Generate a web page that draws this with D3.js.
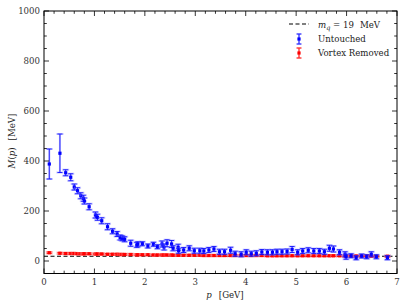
<!DOCTYPE html>
<html><head><meta charset="utf-8">
<script src="https://cdn.jsdelivr.net/npm/d3@7"></script>
<style>body{margin:0;background:#fff}</style>
</head><body><svg id="c" width="407" height="307" font-family="'DejaVu Serif', serif"></svg>
<script>
const momenta = [0.105,0.316,0.43,0.53,0.60,0.665,0.73,0.78,0.80,0.895,1.02,1.06,1.145,1.26,1.36,1.45,1.51,1.55,1.60,1.72,1.84,1.86,1.95,2.06,2.17,2.25,2.34,2.38,2.44,2.53,2.56,2.66,2.67,2.77,2.88,2.98,3.09,3.17,3.27,3.37,3.48,3.58,3.70,3.79,3.91,4.01,4.11,4.21,4.32,4.43,4.53,4.62,4.72,4.82,4.92,5.03,5.13,5.24,5.35,5.46,5.56,5.66,5.74,5.86,5.97,5.99,6.09,6.19,6.30,6.40,6.49,6.59,6.81];
const untouched = [388,431,353,335,296,281,261,251,240,217,184,175,161,137,119,108,94,91,87,71,64,67,69,60,67,57,68,56,71,68,51,55,41,44,51,41,41,40,44,48,37,37,43,29,27,35,29,31,36,35,35,37,37,38,46,35,40,43,40,40,37,51,48,35,27,17,21,13,20,17,27,17,13];
const untouchedErr = [60,77,12,14,12,12,12,12,12,12,12,12,12,12,10,10,10,10,10,12,10,10,8,8,8,8,12,12,14,14,10,12,10,10,10,10,10,10,10,10,10,10,12,10,10,10,10,10,10,10,10,10,10,10,12,10,10,10,10,10,10,12,12,10,10,10,8,8,8,8,10,8,8];
const removed = [33,31,30,30,30,29,29,29,29,29,28,28,28,27,27,27,26,26,26,26,25,25,25,25,24,24,24,24,24,24,23,23,23,23,23,23,23,22,22,22,22,22,22,22,22,22,22,22,22,21,21,21,21,21,21,21,21,21,21,21,21,21,21,21,20,20,20,20,20,20,19,19,19];
const removedErr = [3,3,3,3,3,3,3,3,3,3,3,3,3,3,3,3,3,3,3,3,3,3,3,3,3,3,3,3,3,3,3,3,3,3,3,3,3,3,3,3,3,3,3,3,3,3,3,3,3,3,3,3,3,3,3,3,3,3,3,3,3,3,3,3,3,3,3,3,3,3,3,3,3];
const quarkMass = 19;
const xTicks = [0,1,2,3,4,5,6,7];
const yTicks = [0,200,400,600,800,1000];

const svg = d3.select("#c");
const L=44, R=397, T=11, B=273.5;
const x = d3.scaleLinear().domain([0,7]).range([L,R]);
const y = d3.scaleLinear().domain([-50,1000]).range([B,T]);
const FS = 8.6;

svg.append("line").attr("x1",x(0)).attr("x2",x(7)).attr("y1",y(quarkMass)).attr("y2",y(quarkMass))
  .attr("stroke","#000").attr("stroke-width",1.1).attr("stroke-dasharray","4,2.5");

function series(vals, errs, dark, light){
  const g = svg.append("g");
  momenta.forEach((p,i)=>{
    const cx=x(p), cy=y(vals[i]), t=y(vals[i]+errs[i]), b=y(vals[i]-errs[i]);
    g.append("path").attr("d",`M${cx-3.5},${t}H${cx+3.5}M${cx-3.5},${b}H${cx+3.5}M${cx},${t}V${b}`)
      .attr("stroke",light).attr("stroke-width",2).attr("fill","none");
    g.append("path").attr("d",`M${cx-2.5},${t}H${cx+2.5}M${cx-2.5},${b}H${cx+2.5}M${cx},${t}V${b}`)
      .attr("stroke",dark).attr("stroke-width",0.8).attr("fill","none");
    g.append("rect").attr("x",cx-1.6).attr("y",cy-1.6).attr("width",3.2).attr("height",3.2).attr("fill",dark);
  });
}
series(removed, removedErr, "#ff0000", "rgba(255,120,120,0.5)");
series(untouched, untouchedErr, "#0000ff", "rgba(120,120,255,0.45)");

svg.append("rect").attr("x",L).attr("y",T).attr("width",R-L).attr("height",B-T).attr("fill","none").attr("stroke","#000").attr("stroke-width",1);

const tk = svg.append("g").attr("stroke","#000").attr("stroke-width",0.8);
d3.range(0,7.0001,0.2).forEach(v=>{
  const major = Math.abs(v-Math.round(v))<1e-6; const len = major?5:2.8;
  tk.append("line").attr("x1",x(v)).attr("x2",x(v)).attr("y1",B).attr("y2",B-len);
  tk.append("line").attr("x1",x(v)).attr("x2",x(v)).attr("y1",T).attr("y2",T+len);
});
d3.range(-50,1000.1,50).forEach(v=>{
  const major = v%200===0; const len = major?5:2.8;
  tk.append("line").attr("y1",y(v)).attr("y2",y(v)).attr("x1",L).attr("x2",L+len);
  tk.append("line").attr("y1",y(v)).attr("y2",y(v)).attr("x1",R).attr("x2",R-len);
});
xTicks.forEach(v=>svg.append("text").attr("x",x(v)).attr("y",B+11).attr("text-anchor","middle").attr("font-size",FS).attr("fill","#333").text(v));
yTicks.forEach(v=>svg.append("text").attr("x",L-4).attr("y",y(v)+3.2).attr("text-anchor","end").attr("font-size",FS).attr("fill","#333").text(v));

const xl = svg.append("text").attr("x",225).attr("y",298).attr("text-anchor","middle").attr("font-size",FS).attr("fill","#222");
xl.append("tspan").attr("font-style","italic").text("p");
xl.append("tspan").attr("dx",7).text("[GeV]");
const yl = svg.append("text").attr("transform","translate(15,141) rotate(-90)").attr("text-anchor","middle").attr("font-size",FS).attr("fill","#222");
yl.append("tspan").attr("font-style","italic").text("M");
yl.append("tspan").text("(");
yl.append("tspan").attr("font-style","italic").text("p");
yl.append("tspan").text(")");
yl.append("tspan").attr("dx",7).text("[MeV]");

svg.append("line").attr("x1",289).attr("x2",309).attr("y1",24).attr("y2",24).attr("stroke","#000").attr("stroke-width",1.1).attr("stroke-dasharray","4,2.5");
const lt = svg.append("text").attr("x",318).attr("y",27.5).attr("font-size",FS).attr("fill","#222");
lt.append("tspan").attr("font-style","italic").text("m");
lt.append("tspan").attr("font-style","italic").attr("font-size",6.5).attr("dy",2).text("q");
lt.append("tspan").attr("dy",-2).text(" = 19");
lt.append("tspan").attr("dx",6).text("MeV");
function legIcon(cy, dark, light, label){
  const cx=299;
  svg.append("path").attr("d",`M${cx-3},${cy-5}H${cx+3}M${cx-3},${cy+5}H${cx+3}M${cx},${cy-5}V${cy+5}`).attr("stroke",light).attr("stroke-width",2).attr("fill","none");
  svg.append("path").attr("d",`M${cx-2},${cy-5}H${cx+2}M${cx-2},${cy+5}H${cx+2}M${cx},${cy-5}V${cy+5}`).attr("stroke",dark).attr("stroke-width",0.8).attr("fill","none");
  svg.append("rect").attr("x",cx-1.6).attr("y",cy-1.6).attr("width",3.2).attr("height",3.2).attr("fill",dark);
  svg.append("text").attr("x",318).attr("y",cy+3.2).attr("font-size",FS).attr("fill","#222").text(label);
}
legIcon(39,"#0000ff","rgba(120,120,255,0.45)","Untouched");
legIcon(53,"#ff0000","rgba(255,120,120,0.5)","Vortex Removed");
</script></body></html>
